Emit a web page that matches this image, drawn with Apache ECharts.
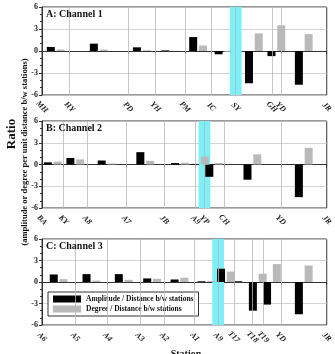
<!DOCTYPE html>
<html>
<head>
<meta charset="utf-8">
<script src="https://cdn.jsdelivr.net/npm/echarts@6/dist/echarts.min.js"></script>
<style>
html, body { margin: 0; padding: 0; background: #fff; }
#chart { width: 335px; height: 354px; }
</style>
</head>
<body>
<div id="chart"></div>
<script>
// station names and their position along the profile (distance units)
var stationsA = ['MH', 'HY', 'PD', 'YH', 'PM', 'IC', 'SY', 'GH', 'YD', 'JR'];
var distA = [0, 28, 88, 116, 146, 173, 198, 235, 244, 291];
// one value per station pair (between station i and i+1)
var ampA = [0.55, 1.0, 0.5, 0.08, 1.9, -0.45, -4.4, -0.7, -4.6];
var degA = [0.2, 0.2, 0.1, 0.02, 0.75, -0.1, 2.4, 3.5, 2.3];

var stationsB = ['BA', 'KY', 'A8', 'A7', 'JB', 'A9', 'YP', 'CH', 'YD', 'JR'];
var distB = [0, 22, 46, 86, 125, 157, 166, 186, 244, 291];
var ampB = [0.3, 0.9, 0.55, 1.7, 0.2, 0.08, -1.7, -2.1, -4.5];
var degB = [0.4, 0.7, 0.15, 0.5, 0.25, 1.1, 0.2, 1.4, 2.3];

var stationsC = ['A6', 'A5', 'A4', 'A3', 'A2', 'A1', 'A9', 'T17', 'T18', 'T19', 'YD', 'JR'];
var distC = [0, 34, 67, 100, 125, 156, 180, 196, 215, 226, 244, 291];
var ampC = [1.05, 1.1, 1.1, 0.5, 0.35, 0.1, 1.85, 0.1, -4.0, -3.15, -4.5];
var degC = [0.4, 0.2, 0.3, 0.45, 0.6, 0.15, 1.45, 0, 1.15, 2.5, 2.3];

// highlighted station in each panel
var bandStations = ['SY', 'YP', 'A9'];
var panelTitles = ['A: Channel 1', 'B: Channel 2', 'C: Channel 3'];
var yTicks = [-6, -3, 0, 3, 6];

var AMP = 'Amplitude / Distance b/w stations';
var DEG = 'Degree / Distance b/w stations';
var FONT = 'Liberation Serif';

var panels = [
  { names: stationsA, dist: distA, amp: ampA, deg: degA, top: 7, height: 88 },
  { names: stationsB, dist: distB, amp: ampB, deg: degB, top: 121, height: 87 },
  { names: stationsC, dist: distC, amp: ampC, deg: degC, top: 239, height: 86 }
];

function pairBars(dist, vals, shift) {
  return vals.map(function (v, i) {
    return [(dist[i] + dist[i + 1]) / 2 + shift, v];
  });
}

var grids = [], xAxes = [], yAxes = [], series = [], titles = [];

panels.forEach(function (p, k) {
  grids.push({
    left: 42, right: 2, top: p.top, height: p.height,
    show: true, borderColor: '#333', borderWidth: 1
  });
  xAxes.push({
    gridIndex: k, type: 'value',
    min: p.dist[0], max: p.dist[p.dist.length - 1],
    axisLine: { lineStyle: { color: '#333' } },
    axisTick: { customValues: p.dist, length: 3, lineStyle: { color: '#333' } },
    splitLine: { show: false },
    axisLabel: {
      customValues: p.dist,
      rotate: -45, align: 'center', verticalAlign: 'middle', margin: 12,
      fontFamily: FONT, fontSize: 8, fontWeight: 'bold', fontStyle: 'italic', color: '#222',
      formatter: function (v) {
        var i = p.dist.indexOf(v);
        return i >= 0 ? p.names[i] : '';
      }
    }
  });
  yAxes.push({
    gridIndex: k, type: 'value', min: yTicks[0], max: yTicks[yTicks.length - 1], interval: 3,
    axisLine: { show: true, lineStyle: { color: '#333' } },
    axisTick: { show: true, length: 3, lineStyle: { color: '#333' } },
    minorTick: { show: true, splitNumber: 3, length: 2, lineStyle: { color: '#333' } },
    splitLine: { lineStyle: { color: '#c8c8c8', width: 0.8 } },
    axisLabel: { fontFamily: FONT, fontSize: 8, fontWeight: 'bold', color: '#222', margin: 4 }
  });
  titles.push({
    text: panelTitles[k], left: 46, top: p.top + 2, padding: 0,
    textStyle: { fontFamily: FONT, fontSize: 10, fontWeight: 'bold', color: '#111' }
  });

  var bandAt = p.dist[p.names.indexOf(bandStations[k])];
  // station grid lines and the cyan band
  series.push({
    name: 'guides' + k, type: 'line', xAxisIndex: k, yAxisIndex: k, data: [],
    silent: true, z: 1,
    markLine: {
      silent: true, symbol: ['none', 'none'], label: { show: false },
      lineStyle: { color: '#b8b8b8', width: 0.8, type: 'solid' },
      data: p.dist.slice(1, -1).map(function (d) { return { xAxis: d }; })
    },
    markArea: {
      silent: true, itemStyle: { color: '#7cf0f6' },
      data: [[{ xAxis: bandAt - 6 }, { xAxis: bandAt + 6 }]]
    }
  });
  series.push({
    name: AMP, type: 'bar', xAxisIndex: k, yAxisIndex: k, z: 3,
    barWidth: 8, barGap: '-100%',
    itemStyle: { color: '#000' },
    data: pairBars(p.dist, p.amp, -5)
  });
  series.push({
    name: DEG, type: 'bar', xAxisIndex: k, yAxisIndex: k, z: 3,
    barWidth: 8, barGap: '-100%',
    itemStyle: { color: '#b9b9b9' },
    data: pairBars(p.dist, p.deg, 5)
  });
});

var chart = echarts.init(document.getElementById('chart'));
chart.setOption({
  animation: false,
  backgroundColor: '#fff',
  title: titles,
  grid: grids,
  xAxis: xAxes,
  yAxis: yAxes,
  series: series,
  legend: {
    data: [AMP, DEG], left: 48, top: 292, orient: 'vertical',
    icon: 'rect', itemWidth: 28, itemHeight: 7, itemGap: 2,
    padding: [3, 5, 3, 5], borderColor: '#333', borderWidth: 1, backgroundColor: '#fff',
    textStyle: { fontFamily: FONT, fontSize: 7.5, fontWeight: 'bold', color: '#111' }
  },
  graphic: [
    {
      type: 'text', x: 12, y: 134, rotation: Math.PI / 2,
      style: { text: 'Ratio', font: 'bold 13px "Liberation Serif"', fill: '#111', textAlign: 'center', textVerticalAlign: 'middle' }
    },
    {
      type: 'text', x: 25, y: 152, rotation: Math.PI / 2,
      style: { text: '(amplitude or degree per unit distance b/w stations)', font: 'bold 8.5px "Liberation Serif"', fill: '#111', textAlign: 'center', textVerticalAlign: 'middle' }
    },
    {
      type: 'text', x: 186, y: 349,
      style: { text: 'Station', font: 'bold 10px "Liberation Serif"', fill: '#111', textAlign: 'center', textVerticalAlign: 'top' }
    }
  ]
});
</script>
</body>
</html>
